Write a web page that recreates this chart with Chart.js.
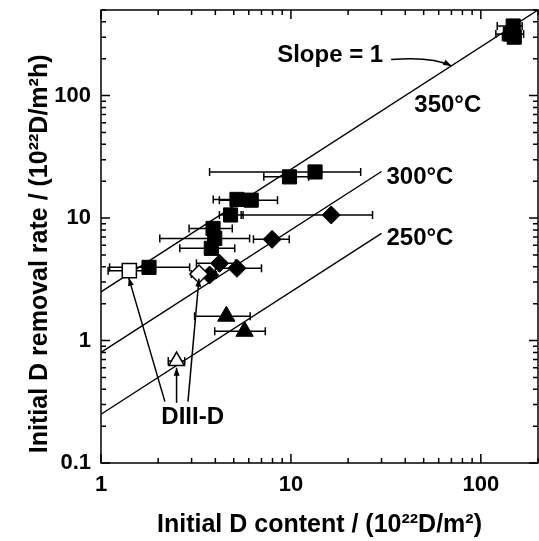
<!DOCTYPE html>
<html>
<head>
<meta charset="utf-8">
<script src="https://cdn.jsdelivr.net/npm/chart.js@4.4.0/dist/chart.umd.min.js"></script>
<style>
  html, body { margin: 0; padding: 0; background: #fff; }
</style>
</head>
<body>
<canvas id="chart" width="539" height="541"></canvas>
<script>
// 350 C (filled squares)
const sqX  = [1.79, 3.81, 3.97, 3.89, 4.81, 5.2, 6.18, 9.83, 13.4, 148, 143, 150];
const sqY  = [3.96, 5.66, 6.82, 8.23, 10.6, 14.2, 14.0, 21.7, 23.8, 370, 318, 300];
const sqLo = [1.11, 2.6, 2.04, 2.91, 4.2, 3.9, 4.2, 7.2, 3.73, 122, 120, 130];
const sqHi = [2.93, 5.06, 6.06, 4.91, 5.6, 6.5, 8.5, 12.4, 23.3, 165, 168, 160];
// 350 C DIII-D (open square)
const osqX = [1.41], osqY = [3.72], osqLo = [1.09], osqHi = [1.66];
// 300 C (filled diamonds)
const dmX  = [3.73, 4.21, 5.2, 7.96, 16.3];
const dmY  = [3.43, 4.27, 3.89, 6.7, 10.6];
const dmLo = [3.45, 3.18, 4.0, 6.35, 5.47];
const dmHi = [4.05, 5.1, 7.0, 9.8, 26.9];
// 300 C DIII-D (open diamond)
const odmX = [3.28], odmY = [3.49], odmLo = [2.99], odmHi = [3.6];
// 250 C (filled triangles)
const trX  = [4.57, 5.7];
const trY  = [1.58, 1.19];
const trLo = [3.11, 3.97];
const trHi = [6.1, 7.33];
// 250 C DIII-D (open triangle)
const otrX = [2.5], otrY = [0.68], otrLo = [2.26], otrHi = [2.76];

// slope = 1 lines
const fitNames  = ["350°C", "300°C", "250°C"];
const fitXStart = [1, 1, 1];
const fitXEnd   = [200, 30, 30];
const fitYStart = [2.5, 0.8, 0.25];
const fitYEnd   = [500, 24, 7.5];

const xTickLabels = [1, 10, 100];
const yTickLabels = [0.1, 1, 10, 100];

const FONT = '"Liberation Sans", Arial, Helvetica, sans-serif';

// minor tick positions (1..9 per decade) for the inward tick marks
function logSteps(min, max) {
    const out = [];
    for (let d = min; d < max; d *= 10) {
        for (let m = 1; m <= 9; m++) {
            const v = m * d;
            if (v <= max + 1e-9) out.push(v);
        }
    }
    return out;
}

function isMajor(v) {
    const l = Math.log10(v);
    return Math.abs(l - Math.round(l)) < 1e-6;
}

function points(xs, ys) {
    return xs.map((x, i) => ({x: x, y: ys[i]}));
}

const datasets = [];

function markers(xs, ys, style, radius, fill) {
    datasets.push({
        data: points(xs, ys),
        pointStyle: style,
        pointRadius: radius,
        pointHoverRadius: radius,
        backgroundColor: fill,
        borderColor: "#000",
        borderWidth: fill === "#fff" ? 1.5 : 1,
        order: 0
    });
}

function errorBars(xs, ys, lo, hi) {
    xs.forEach((x, i) => {
        datasets.push({
            data: [{x: lo[i], y: ys[i]}, {x: hi[i], y: ys[i]}],
            showLine: true,
            borderColor: "#000",
            borderWidth: 1.5,
            pointStyle: "line",
            rotation: 90,
            pointRadius: 4,
            pointHoverRadius: 4,
            pointBorderWidth: 1.5,
            pointBorderColor: "#000",
            order: 1
        });
    });
}

markers(osqX, osqY, "rect", 10, "#fff");
markers(sqX, sqY, "rect", 10, "#000");
markers(odmX, odmY, "rectRot", 9, "#fff");
markers(dmX, dmY, "rectRot", 9, "#000");
markers(otrX, otrY, "triangle", 9, "#fff");
markers(trX, trY, "triangle", 10, "#000");

errorBars(sqX, sqY, sqLo, sqHi);
errorBars(osqX, osqY, osqLo, osqHi);
errorBars(dmX, dmY, dmLo, dmHi);
errorBars(odmX, odmY, odmLo, odmHi);
errorBars(trX, trY, trLo, trHi);
errorBars(otrX, otrY, otrLo, otrHi);

fitNames.forEach((name, i) => {
    datasets.push({
        label: name,
        data: [{x: fitXStart[i], y: fitYStart[i]}, {x: fitXEnd[i], y: fitYEnd[i]}],
        showLine: true,
        borderColor: "#000",
        borderWidth: 1.4,
        pointRadius: 0,
        pointHoverRadius: 0,
        order: 2
    });
});

// text and arrows, placed in data coordinates
const notes = [
    {text: "Slope = 1", x: 16.1, y: 212},
    {text: "350°C", x: 67, y: 83},
    {text: "300°C", x: 47.8, y: 21.5},
    {text: "250°C", x: 47.8, y: 6.86},
    {text: "DIII-D", x: 3.04, y: 0.235}
];
const arrows = [
    {from: [2.17, 0.317], to: [1.40, 3.25]},
    {from: [2.5, 0.31], to: [2.5, 0.6]},
    {from: [2.87, 0.317], to: [3.28, 3.2]}
];
const slopeArrow = {from: [33.7, 197], ctrl: [55, 210], to: [70, 175]};

function arrowHead(ctx, x, y, ang) {
    const len = 8, half = 3;
    ctx.beginPath();
    ctx.moveTo(x, y);
    ctx.lineTo(x - len * Math.cos(ang) + half * Math.sin(ang), y - len * Math.sin(ang) - half * Math.cos(ang));
    ctx.lineTo(x - len * Math.cos(ang) - half * Math.sin(ang), y - len * Math.sin(ang) + half * Math.cos(ang));
    ctx.closePath();
    ctx.fill();
}

const frame = {
    id: "frame",
    afterDatasetsDraw(chart) {
        const {ctx, chartArea: a, scales: {x, y}} = chart;
        ctx.save();
        ctx.strokeStyle = "#000";
        ctx.fillStyle = "#000";
        ctx.lineWidth = 1.5;
        ctx.strokeRect(a.left, a.top, a.right - a.left, a.bottom - a.top);

        ctx.beginPath();
        logSteps(x.min, x.max).forEach(v => {
            const px = x.getPixelForValue(v);
            const len = isMajor(v) ? 9 : 5;
            ctx.moveTo(px, a.bottom); ctx.lineTo(px, a.bottom - len);
            ctx.moveTo(px, a.top); ctx.lineTo(px, a.top + len);
        });
        logSteps(y.min, y.max).forEach(v => {
            const py = y.getPixelForValue(v);
            const len = isMajor(v) ? 9 : 5;
            ctx.moveTo(a.left, py); ctx.lineTo(a.left + len, py);
            ctx.moveTo(a.right, py); ctx.lineTo(a.right - len, py);
        });
        ctx.stroke();

        ctx.font = "bold 24px " + FONT;
        ctx.textAlign = "center";
        ctx.textBaseline = "middle";
        notes.forEach(n => {
            ctx.fillText(n.text, x.getPixelForValue(n.x), y.getPixelForValue(n.y));
        });

        ctx.lineWidth = 1.5;
        arrows.forEach(ar => {
            const x0 = x.getPixelForValue(ar.from[0]), y0 = y.getPixelForValue(ar.from[1]);
            const x1 = x.getPixelForValue(ar.to[0]), y1 = y.getPixelForValue(ar.to[1]);
            ctx.beginPath();
            ctx.moveTo(x0, y0);
            ctx.lineTo(x1, y1);
            ctx.stroke();
            arrowHead(ctx, x1, y1, Math.atan2(y1 - y0, x1 - x0));
        });

        const s = slopeArrow;
        const sx0 = x.getPixelForValue(s.from[0]), sy0 = y.getPixelForValue(s.from[1]);
        const cx = x.getPixelForValue(s.ctrl[0]), cy = y.getPixelForValue(s.ctrl[1]);
        const sx1 = x.getPixelForValue(s.to[0]), sy1 = y.getPixelForValue(s.to[1]);
        ctx.beginPath();
        ctx.moveTo(sx0, sy0);
        ctx.quadraticCurveTo(cx, cy, sx1, sy1);
        ctx.stroke();
        arrowHead(ctx, sx1, sy1, Math.atan2(sy1 - cy, sx1 - cx));
        ctx.restore();
    }
};

new Chart(document.getElementById("chart").getContext("2d"), {
    type: "scatter",
    data: {datasets: datasets},
    options: {
        responsive: false,
        animation: false,
        devicePixelRatio: 1,
        layout: {autoPadding: false, padding: {top: 10, right: 1, left: 0, bottom: 0}},
        plugins: {legend: {display: false}, tooltip: {enabled: false}},
        scales: {
            x: {
                type: "logarithmic",
                min: 1,
                max: 200,
                afterBuildTicks: (scale) => { scale.ticks = xTickLabels.map(v => ({value: v})); },
                afterFit: (scale) => {
                    scale.height = 78;
                    scale.paddingLeft = 0;
                    scale.paddingRight = 0;
                },
                grid: {display: false, drawTicks: false},
                border: {display: false},
                ticks: {
                    autoSkip: false,
                    maxRotation: 0,
                    padding: 9,
                    color: "#000",
                    font: {family: FONT, size: 22, weight: "bold"},
                    callback: (v) => String(v)
                },
                title: {
                    display: true,
                    text: "Initial D content / (10²²D/m²)",
                    color: "#000",
                    font: {family: FONT, size: 25, weight: "bold"},
                    padding: {top: 0, bottom: 1}
                }
            },
            y: {
                type: "logarithmic",
                min: 0.1,
                max: 500,
                afterBuildTicks: (scale) => { scale.ticks = yTickLabels.map(v => ({value: v})); },
                afterFit: (scale) => {
                    scale.width = 101;
                    scale.paddingTop = 0;
                    scale.paddingBottom = 0;
                },
                grid: {display: false, drawTicks: false},
                border: {display: false},
                ticks: {
                    autoSkip: false,
                    padding: 10,
                    color: "#000",
                    font: {family: FONT, size: 22, weight: "bold"},
                    callback: (v) => String(v)
                },
                title: {
                    display: true,
                    // trailing spaces push the title a little below the centre, as in the source
                    text: "Initial D removal rate / (10²²D/m²h)     ",
                    color: "#000",
                    font: {family: FONT, size: 25, weight: "bold"},
                    padding: {top: 25, bottom: 0}
                }
            }
        }
    },
    plugins: [frame]
});
</script>
</body>
</html>
